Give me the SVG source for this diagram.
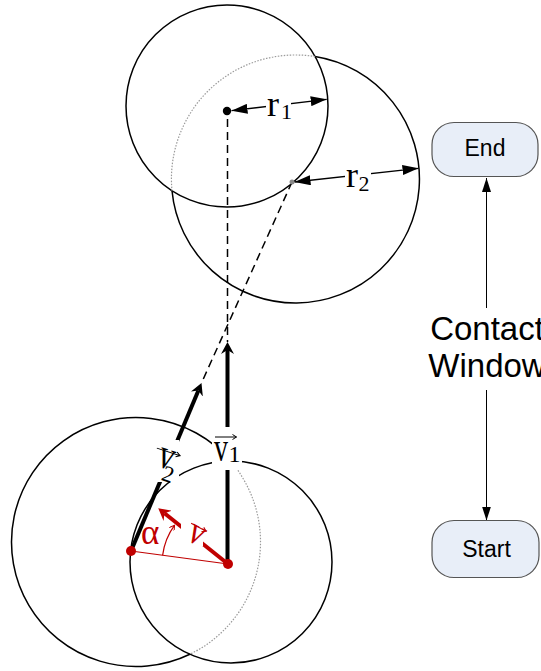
<svg xmlns="http://www.w3.org/2000/svg" width="541" height="671" viewBox="0 0 541 671">
  <style>
    .circ { fill: none; stroke: #000; stroke-width: 1.5; }
    .ghost { fill: none; stroke: #9a9a9a; stroke-width: 1.2; stroke-dasharray: 1.5 1.5; }
    .dash { fill: none; stroke: #000; stroke-width: 1.5; stroke-dasharray: 8 5; }
    .vec { fill: none; stroke: #000; stroke-width: 4; }
    .vecred { fill: none; stroke: #c00000; stroke-width: 4; }
    .thinred { fill: none; stroke: #c00000; stroke-width: 1.2; }
    .dim { fill: none; stroke: #000; stroke-width: 1.3; }
    .over { fill: none; stroke: #000; stroke-width: 1; }
    .overred { fill: none; stroke: #c00000; stroke-width: 1; }
    .mask { fill: #fff; stroke: none; }
    .serif { font-family: "Liberation Serif", "Times New Roman", serif; fill: #000; }
    .red { fill: #c00000; }
    .pill { fill: #e8eef8; stroke: #555; stroke-width: 1.2; }
    .sans { font-family: "Liberation Sans", Arial, sans-serif; fill: #000; }
    .link { fill: none; stroke: #000; stroke-width: 1; }
  </style>
  <defs>
    <marker id="stealth" markerUnits="userSpaceOnUse" viewBox="0 0 13 13" markerWidth="13" markerHeight="13" refX="4" refY="6.5" orient="auto">
      <path d="M0,0 L12,6.5 L0,13 L4,6.5 Z" fill="#000"/>
    </marker>
    <marker id="stealthRed" markerUnits="userSpaceOnUse" viewBox="0 0 13 13" markerWidth="13" markerHeight="13" refX="4" refY="6.5" orient="auto">
      <path d="M0,0 L12,6.5 L0,13 L4,6.5 Z" fill="#c00000"/>
    </marker>
    <marker id="tri" markerUnits="userSpaceOnUse" viewBox="0 0 16 10" markerWidth="16" markerHeight="10" refX="16" refY="5" orient="auto-start-reverse">
      <path d="M0,0 L16,5 L0,10 Z" fill="#000"/>
    </marker>
    <marker id="flow" markerUnits="userSpaceOnUse" viewBox="0 0 14 9" markerWidth="14" markerHeight="9" refX="14" refY="4.5" orient="auto">
      <path d="M0,0 L14,4.5 L0,9 Z" fill="#000"/>
    </marker>
    <marker id="hook" markerUnits="userSpaceOnUse" viewBox="0 0 6 6" markerWidth="6" markerHeight="6" refX="5" refY="3" orient="auto">
      <path d="M0,0 L5,3 L0,6" fill="none" stroke="#c00000" stroke-width="1"/>
    </marker>
  </defs>

  <!-- range circles -->
  <g id="circles">
    <circle class="circ" cx="227" cy="106" r="101"/>
    <!-- larger top circle: hidden part drawn dotted -->
    <path class="circ" d="M172,190.75 A124,124 0 1 0 315.1,56.55"/>
    <path class="ghost" d="M315.1,56.55 A124,124 0 0 0 172,190.75"/>
    <!-- bottom-left circle: hidden part drawn dotted -->
    <path class="circ" d="M189.88,654.24 A124.5,124.5 0 1 1 230.56,461"/>
    <path class="ghost" d="M230.56,461 A124.5,124.5 0 0 1 189.88,654.24"/>
    <circle class="circ" cx="231" cy="562" r="101"/>
  </g>

  <g id="connectors">
    <!-- projected paths -->
    <line class="dash" x1="227.5" y1="119" x2="227.5" y2="342"/>
    <line class="dash" x1="292" y1="182" x2="201.5" y2="383"/>
    <!-- velocity vectors -->
    <line class="vec" x1="227.5" y1="564" x2="227.5" y2="350" marker-end="url(#stealth)"/>
    <line class="vec" x1="131" y1="551" x2="198.4" y2="390.4" marker-end="url(#stealth)"/>
    <line class="vecred" x1="228" y1="564" x2="164.5" y2="513.3" marker-end="url(#stealthRed)"/>
    <!-- baseline and angle -->
    <line class="thinred" x1="131" y1="551" x2="228" y2="564"/>
    <path class="thinred" d="M162.6,555.3 A66,66 0 0 1 174.6,525.2" marker-end="url(#hook)"/>
    <!-- radius dimensions -->
    <line class="dim" x1="231.5" y1="110.7" x2="326.7" y2="99.3" marker-start="url(#tri)" marker-end="url(#tri)"/>
    <line class="dim" x1="294.5" y1="182" x2="418.5" y2="168.3" marker-start="url(#tri)" marker-end="url(#tri)"/>
    <!-- contact window -->
    <line class="link" x1="486.5" y1="308" x2="486.5" y2="178" marker-end="url(#flow)"/>
    <line class="link" x1="486.5" y1="390" x2="486.5" y2="520.5" marker-end="url(#flow)"/>
  </g>

  <!-- centre points -->
  <g id="points">
    <circle cx="227" cy="111" r="4.2" fill="#000"/>
    <circle cx="292" cy="182" r="2.5" fill="#888"/>
    <circle cx="131" cy="551" r="5" fill="#c00000"/>
    <circle cx="228" cy="564" r="5" fill="#c00000"/>
  </g>

  <!-- labels -->
  <g id="label-r1">
    <rect class="mask" x="266" y="96" width="25" height="26"/>
    <text class="serif" x="267" y="116" font-size="36">r</text>
    <text class="serif" x="281" y="119" font-size="22">1</text>
  </g>
  <g id="label-r2">
    <rect class="mask" x="345" y="166" width="26" height="26"/>
    <text class="serif" x="346" y="187" font-size="36">r</text>
    <text class="serif" x="358.5" y="190.5" font-size="22">2</text>
  </g>
  <g id="label-v1">
    <rect class="mask" x="212" y="427" width="30" height="43"/>
    <text class="serif" transform="translate(221,460.5) scale(1,1.45)" text-anchor="middle" font-size="28">v</text>
    <text class="serif" x="228.5" y="462" font-size="24">1</text>
    <path class="over" d="M215,437 H236.5 M232.5,434.5 L236.5,437 L232.5,439.5"/>
  </g>
  <g id="label-v2">
    <rect class="mask" x="151" y="440" width="28" height="42"/>
    <g transform="translate(163,468) rotate(18)">
      <text class="serif" transform="scale(1,1.35)" text-anchor="middle" font-size="31">v</text>
      <text class="serif" x="1" y="12" font-size="23">2</text>
      <path class="over" d="M-12,-17 H12.5 M8.5,-19.5 L12.5,-17 L8.5,-14.5"/>
    </g>
  </g>
  <g id="label-v">
    <rect class="mask" x="181" y="520" width="22" height="26"/>
    <g transform="translate(192,543) rotate(28)">
      <text class="serif red" transform="scale(1,1.25)" text-anchor="middle" font-size="31">v</text>
      <path class="overred" d="M-10,-17 H7 M3,-19.5 L7,-17 L3,-14.5"/>
    </g>
  </g>
  <g id="label-alpha">
    <text class="serif red" x="141" y="543.5" font-size="35">α</text>
  </g>

  <!-- contact window -->
  <g id="node-end">
    <rect class="pill" x="432" y="122.5" width="106" height="54" rx="22"/>
    <text class="sans" x="485" y="155.5" font-size="23" text-anchor="middle">End</text>
  </g>
  <g id="node-start">
    <rect class="pill" x="432" y="520.5" width="107" height="57" rx="22"/>
    <text class="sans" x="486.5" y="557" font-size="23" text-anchor="middle">Start</text>
  </g>
  <g id="label-contact">
    <text class="sans" x="487" y="340" font-size="33" text-anchor="middle">Contact</text>
    <text class="sans" x="487" y="377" font-size="33" text-anchor="middle">Window</text>
  </g>
</svg>
